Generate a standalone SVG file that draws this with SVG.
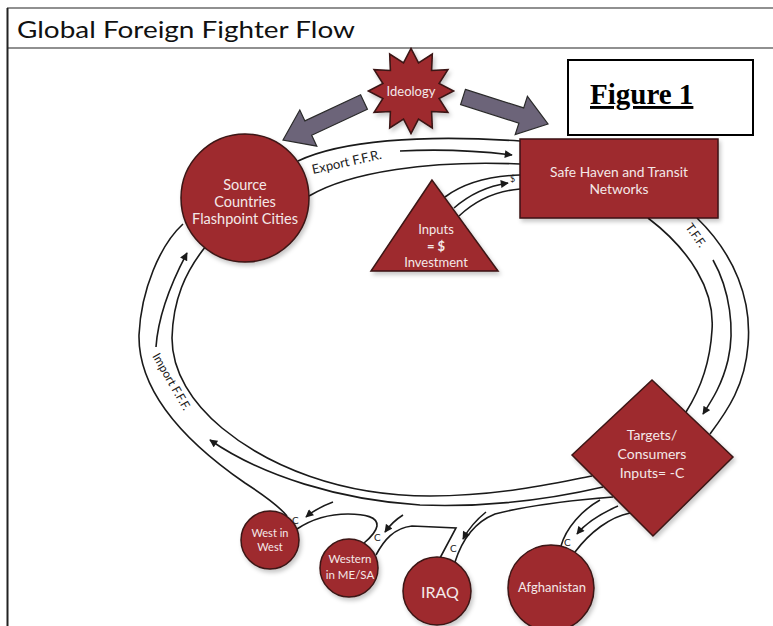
<svg xmlns="http://www.w3.org/2000/svg" width="773" height="626" viewBox="0 0 773 626">
<style>
.frame{stroke:#222;fill:none}
.node{fill:#9e2b2d;stroke:#3b1414;stroke-width:1.5;filter:url(#sh)}
.lbl{font-family:Lato,"Open Sans",sans-serif;fill:#f4e8e8;text-anchor:middle}
.ln{fill:none;stroke:#1a1a1a;stroke-width:1.6}
.ar{fill:none;stroke:#1a1a1a;stroke-width:1.6;marker-end:url(#ah)}
.cl{font-family:Lato,"Open Sans",sans-serif;fill:#1a1a1a}
.big{fill:#6c6479;stroke:#2a2a2a;stroke-width:1.2}
</style>
<defs>
<marker id="ah" viewBox="0 0 10 10" refX="9" refY="5" markerUnits="userSpaceOnUse" markerWidth="9" markerHeight="8" orient="auto">
<path d="M0,0 L10,5 L0,10 z" fill="#1a1a1a"/>
</marker>
<filter id="sh" x="-20%" y="-20%" width="140%" height="140%">
<feDropShadow dx="2" dy="3" stdDeviation="2" flood-color="#000" flood-opacity="0.22"/>
</filter>
</defs>
<rect width="773" height="626" fill="#fff"/>
<g id="frame">
<line class="frame" x1="7" y1="8" x2="773" y2="8" stroke-width="1.2"/>
<line class="frame" x1="7" y1="48" x2="773" y2="48" stroke-width="1.2"/>
<line class="frame" x1="7.5" y1="8" x2="7.5" y2="626" stroke-width="2"/>
<text x="17" y="38" font-family="Lato,'Open Sans',sans-serif" font-size="24" fill="#111" textLength="338" lengthAdjust="spacingAndGlyphs">Global Foreign Fighter Flow</text>
</g>
<g id="connectors">
<!-- Export channel -->
<path class="ln" d="M298,161 C340,141 420,134 520,141"/>
<path class="ln" d="M309,196 C350,172 430,160 520,164"/>
<path class="ar" d="M400,151 C440,149 480,151 512,155"/>
<text class="cl" x="313" y="174" font-size="13" transform="rotate(-12.5 313 174)">Export F.F.R.</text>
<!-- $ channel -->
<path class="ln" d="M445,197 C465,182 490,176 520,175"/>
<path class="ln" d="M459,216 C476,200 496,191 520,189"/>
<path class="ar" d="M454,208 C470,194 488,186 508,183"/>
<text class="cl" x="510" y="182" font-size="9">$</text>
<!-- T.F.F. channel -->
<path class="ln" d="M648,218 C690,250 715,290 712,330 C710,365 700,390 686,412"/>
<path class="ar" d="M713,260 C730,290 735,330 728,360 C722,385 712,400 703,414"/>
<path class="ln" d="M697,218 C735,255 752,300 748,345 C745,385 728,410 710,434"/>
<text class="cl" x="685" y="227" font-size="12" transform="rotate(55 685 227)">T.F.F.</text>
<!-- Import loop -->
<path class="ln" d="M592,476 C555,483 500,496 430,496 C340,496 268,466 222,428 C192,403 172,372 172,338 C173,300 185,272 206,246"/>
<path class="ar" d="M156,347 C158,318 170,285 187,253"/>
<path class="ar" d="M603,487 C560,497 500,508 420,505 C340,500 262,476 210,440"/>
<path class="ln" d="M183,224 C160,245 141,290 139,335 C138,395 190,445 245,483 C262,494 278,505 287,516"/>
<text class="cl" x="152" y="356" font-size="12" transform="rotate(60 152 356)">Import F.F.F.</text>
<!-- bottom pipes -->
<path class="ln" d="M297,529 C312,519 330,514 348,514 C365,514 378,517 377,526 C376,532 370,538 364,543"/>
<path class="ln" d="M376,555 C384,540 394,528 412,526 L456,528 L440,558"/>
<path class="ln" d="M455,562 C462,540 475,522 495,514 C530,505 575,500 613,497"/>
<path class="ln" d="M600,500 C582,510 566,528 561,546"/>
<path class="ln" d="M575,552 C590,532 610,517 630,513"/>
<path class="ar" d="M333,502 C322,506 313,511 306,517"/>
<path class="ar" d="M403,515 C395,520 390,525 385,532"/>
<path class="ar" d="M486,512 C476,520 468,530 463,539"/>
<path class="ar" d="M618,506 C600,514 585,524 577,534"/>
<text class="cl" x="292" y="524" font-size="10">C</text>
<text class="cl" x="374" y="541" font-size="10">C</text>
<text class="cl" x="450" y="552" font-size="10">C</text>
<text class="cl" x="564" y="546" font-size="10">C</text>
<!-- ideology arrows -->
<polygon class="big" points="360.6,94.8 304.9,120.9 299.8,110 283,140 316.8,146.2 311.7,135.3 367.4,109.2"/>
<polygon class="big" points="465.4,89.4 523.7,107.9 527.4,96.4 548,124 515.2,134.6 518.9,123.1 460.6,104.6"/>
</g>
<g id="ideology">
<polygon class="node" transform="translate(411 91) scale(1.04)" points="0,-41 7.2,-27 20.5,-35.5 19.8,-19.8 35.5,-20.5 27,-7.2 41,0 27,7.2 35.5,20.5 19.8,19.8 20.5,35.5 7.2,27 0,41 -7.2,27 -20.5,35.5 -19.8,19.8 -35.5,20.5 -27,7.2 -41,0 -27,-7.2 -35.5,-20.5 -19.8,-19.8 -20.5,-35.5 -7.2,-27"/>
<text class="lbl" x="411" y="96" font-size="13">Ideology</text>
</g>
<g id="figure1">
<rect x="568" y="60" width="185" height="75" fill="#fff" stroke="#000" stroke-width="2"/>
<text x="590" y="104" font-family="'Liberation Serif',serif" font-weight="bold" font-size="29" fill="#000" text-decoration="underline">Figure 1</text>
</g>
<g id="source">
<circle class="node" cx="245" cy="198" r="64"/>
<text class="lbl" x="245" y="190" font-size="14.5">Source</text>
<text class="lbl" x="245" y="207" font-size="14.5">Countries</text>
<text class="lbl" x="245" y="224" font-size="14.5">Flashpoint Cities</text>
</g>
<g id="safehaven">
<rect class="node" x="520" y="139" width="198" height="79"/>
<text class="lbl" x="619" y="177" font-size="13.8">Safe Haven and Transit</text>
<text class="lbl" x="619" y="194" font-size="13.8">Networks</text>
</g>
<g id="inputs">
<polygon class="node" points="432,180 371,271 498,271"/>
<text class="lbl" x="436" y="234" font-size="13">Inputs</text>
<text class="lbl" x="436" y="251" font-size="13" font-weight="bold">= $</text>
<text class="lbl" x="436" y="267" font-size="13">Investment</text>
</g>
<g id="targets">
<polygon class="node" points="572,455 652,380 733,457 653,536"/>
<text class="lbl" x="652" y="440" font-size="14">Targets/</text>
<text class="lbl" x="652" y="459" font-size="14">Consumers</text>
<text class="lbl" x="652" y="478" font-size="14">Inputs= -C</text>
</g>
<g id="westinwest">
<circle class="node" cx="270" cy="540" r="29"/>
<text class="lbl" x="270" y="537" font-size="11">West in</text>
<text class="lbl" x="270" y="551" font-size="11">West</text>
</g>
<g id="western">
<circle class="node" cx="349" cy="568" r="29"/>
<text class="lbl" x="350" y="563" font-size="11.5">Western</text>
<text class="lbl" x="350" y="579" font-size="11.5">in ME/SA</text>
</g>
<g id="iraq">
<circle class="node" cx="437" cy="591" r="34"/>
<text class="lbl" x="440" y="598" font-size="16">IRAQ</text>
</g>
<g id="afghanistan">
<circle class="node" cx="551" cy="588" r="43"/>
<text class="lbl" x="552" y="592" font-size="13">Afghanistan</text>
</g>
</svg>
